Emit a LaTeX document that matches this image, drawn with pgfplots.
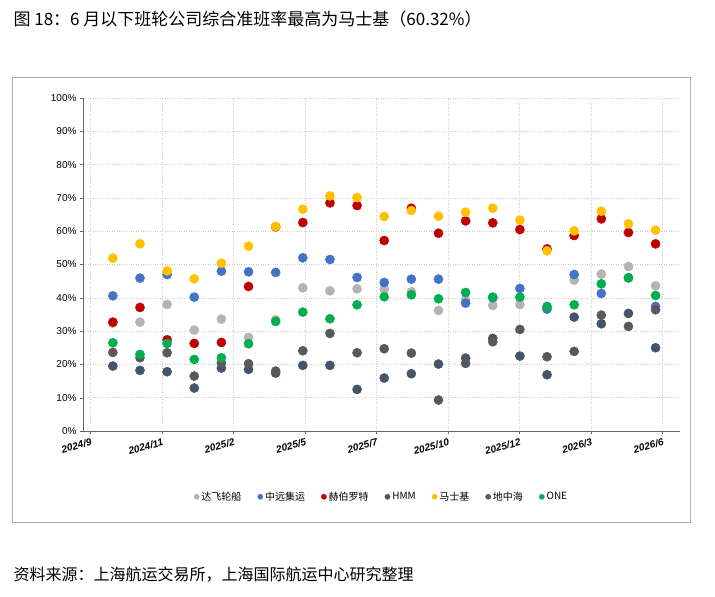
\documentclass[border=0pt]{standalone}
\usepackage{pgfplots}
\pgfplotsset{compat=1.18}
\usepackage{fontspec}
\setmainfont{Liberation Sans}
\newfontfamily\cjk{Noto Sans CJK SC}
\definecolor{cgray}{HTML}{B4B4B4}
\definecolor{cblue}{HTML}{4472C4}
\definecolor{cred}{HTML}{C00000}
\definecolor{cnavy}{HTML}{44546A}
\definecolor{cyel}{HTML}{FFC000}
\definecolor{cdark}{HTML}{595959}
\definecolor{cgreen}{HTML}{00B050}
\begin{document}
\begin{tikzpicture}
\fill[white] (0pt,0pt) rectangle (715pt,597pt);
\draw[gray!60] (12pt,75pt) rectangle (690pt,520pt);
\node[anchor=west,font=\cjk\fontsize{17}{19}\selectfont] at (10pt,578pt) {图 18：6 月以下班轮公司综合准班率最高为马士基（60.32\%）};
\node[anchor=west,font=\cjk\fontsize{16}{18}\selectfont] at (10pt,22pt) {资料来源：上海航运交易所，上海国际航运中心研究整理};
\begin{axis}[at={(83pt,166pt)},anchor=south west,scale only axis,width=597pt,height=333pt,
 xmin=-1.1,xmax=20.9,ymin=0,ymax=100,
 xtick={-0.83,1.81,4.44,7.08,9.71,12.35,14.98,17.62,20.25},
 xticklabels={2024/9,2024/11,2025/2,2025/5,2025/7,2025/10,2025/12,2026/3,2026/6},
 xticklabel style={rotate=15,anchor=north east,font=\bfseries\itshape\fontsize{10}{12}\selectfont,inner sep=1pt,yshift=-3pt},
 ytick={0,10,...,100},yticklabel={\pgfmathprintnumber{\tick}\%},
 yticklabel style={font=\fontsize{10}{12}\selectfont},
 /pgf/number format/assume math mode=true,
 grid=major,major grid style={gray!40,dotted},
 axis x line*=bottom, axis y line*=left, axis line style={gray!80!black},
 tick style={gray!80!black}, tick align=outside, major tick length=3pt,
 legend columns=7, legend style={at={(0.5,-0.17)},anchor=north,draw=none,font=\cjk\fontsize{10}{12}\selectfont,/tikz/every even column/.append style={column sep=14pt}},
 legend image code/.code={\fill[#1] (0pt,0pt) circle (2.6pt);},
]
\addplot[only marks,mark=*,mark size=4.6pt,color=cgray] coordinates {(0,32.4)(1,32.7)(2,38.0)(3,30.3)(4,33.6)(5,28.1)(6,33.4)(7,43.0)(8,42.1)(9,42.7)(10,42.6)(11,41.8)(12,36.2)(13,39.4)(14,37.7)(15,38.0)(16,36.7)(17,45.3)(18,47.1)(19,49.4)(20,43.6)};
\addplot[only marks,mark=*,mark size=4.6pt,color=cblue] coordinates {(0,40.6)(1,45.9)(2,47.0)(3,40.2)(4,48.0)(5,47.8)(6,47.6)(7,52.0)(8,51.5)(9,46.1)(10,44.6)(11,45.6)(12,45.6)(13,38.4)(14,40.0)(15,42.8)(16,36.6)(17,47.0)(18,41.3)(19,46.0)(20,37.4)};
\addplot[only marks,mark=*,mark size=4.6pt,color=cred] coordinates {(0,32.7)(1,37.1)(2,27.4)(3,26.3)(4,26.6)(5,43.4)(6,61.3)(7,62.6)(8,68.5)(9,67.7)(10,57.2)(11,66.9)(12,59.4)(13,63.1)(14,62.5)(15,60.5)(16,54.7)(17,58.7)(18,63.7)(19,59.6)(20,56.2)};
\addplot[only marks,mark=*,mark size=4.6pt,color=cnavy] coordinates {(0,19.5)(1,18.2)(2,17.8)(3,12.9)(4,18.9)(5,18.5)(6,17.4)(7,19.7)(8,19.7)(9,12.5)(10,15.9)(11,17.2)(12,20.1)(13,21.9)(14,27.8)(15,22.5)(16,16.9)(17,34.2)(18,32.2)(19,35.3)(20,25.0)};
\addplot[only marks,mark=*,mark size=4.6pt,color=cyel] coordinates {(0,51.9)(1,56.2)(2,48.1)(3,45.7)(4,50.4)(5,55.5)(6,61.4)(7,66.6)(8,70.6)(9,70.1)(10,64.4)(11,66.2)(12,64.5)(13,65.7)(14,66.9)(15,63.3)(16,54.1)(17,60.1)(18,66.0)(19,62.2)(20,60.32)};
\addplot[only marks,mark=*,mark size=4.6pt,color=cdark] coordinates {(0,23.6)(1,22.0)(2,23.5)(3,16.5)(4,20.4)(5,20.2)(6,18.0)(7,24.1)(8,29.3)(9,23.5)(10,24.7)(11,23.4)(12,9.3)(13,20.3)(14,26.8)(15,30.5)(16,22.3)(17,23.9)(18,34.8)(19,31.4)(20,36.4)};
\addplot[only marks,mark=*,mark size=4.6pt,color=cgreen] coordinates {(0,26.5)(1,23.0)(2,26.3)(3,21.5)(4,22.0)(5,26.2)(6,32.9)(7,35.7)(8,33.7)(9,37.9)(10,40.3)(11,40.9)(12,39.7)(13,41.6)(14,40.2)(15,40.2)(16,37.4)(17,37.9)(18,44.2)(19,46.0)(20,40.7)};
\legend{达飞轮船,中远集运,赫伯罗特,HMM,马士基,地中海,ONE}
\end{axis}
\end{tikzpicture}
\end{document}
